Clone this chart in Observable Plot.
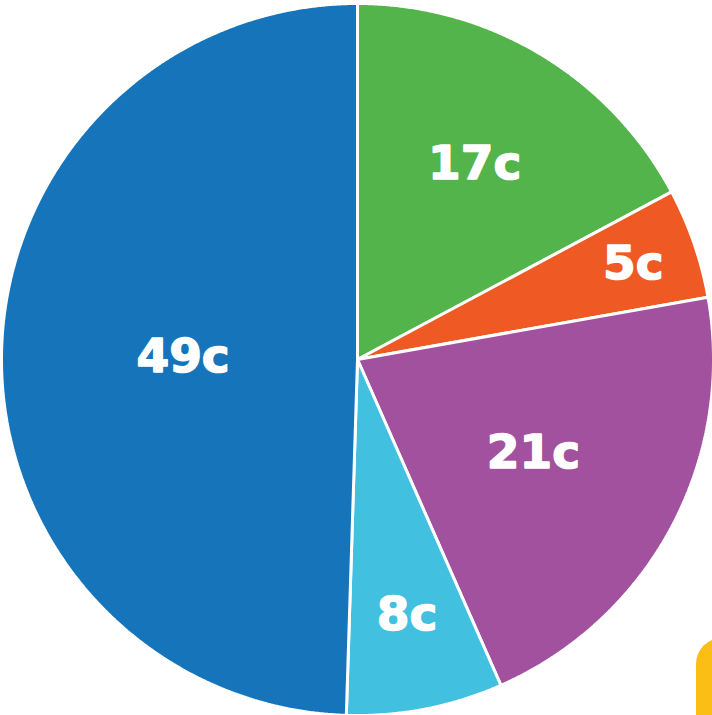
<!DOCTYPE html>
<html>
<head>
<meta charset="utf-8">
<script src="https://cdn.jsdelivr.net/npm/d3@7"></script>
<script src="https://cdn.jsdelivr.net/npm/@observablehq/plot@0.6"></script>
<style>
  html, body { margin: 0; padding: 0; background: #fff; overflow: hidden; }
  #wrap { position: relative; width: 712px; height: 715px; }
  #corner { position: absolute; left: 696px; top: 638px; width: 60px; height: 120px; border-radius: 26px; background: #FBBE14; }
</style>
</head>
<body>
<div id="wrap"><div id="chart"></div><div id="corner"></div></div>
<script>
// Data (clockwise from 12 o'clock)
const categories = ["green", "orange", "purple", "cyan", "blue"];
const values = [17.2, 5.0, 21.2, 7.1, 49.5];
const labels = ["17c", "5c", "21c", "8c", "49c"];
const colors = ["#52B44B", "#EF5A24", "#A1519E", "#41C1DF", "#1674BA"];

// layout config: label distance from centre as fraction of radius
const labelRadius = [0.64, 0.82, 0.56, 0.73, 0.49];

const pie = d3.pie().sort(null).value(d => d.value);
const slices = pie(categories.map((c, i) => ({key: c, value: values[i], label: labels[i], color: colors[i], lr: labelRadius[i]})));

// polygon outline for each slice (angles measured clockwise from top)
const outline = [];
for (const s of slices) {
  outline.push({key: s.data.key, color: s.data.color, x: 0, y: 0});
  const n = Math.max(2, Math.ceil((s.endAngle - s.startAngle) / (Math.PI / 720)));
  for (let k = 0; k <= n; k++) {
    const a = s.startAngle + (s.endAngle - s.startAngle) * k / n;
    outline.push({key: s.data.key, color: s.data.color, x: Math.sin(a), y: Math.cos(a)});
  }
}
const labelData = slices.map(s => {
  const a = (s.startAngle + s.endAngle) / 2;
  return {label: s.data.label, x: s.data.lr * Math.sin(a), y: s.data.lr * Math.cos(a)};
});

const cx = 357, cy = 359, R = 356;
const chart = Plot.plot({
  width: 712,
  height: 715,
  margin: 0,
  x: {domain: [-1, 1], range: [cx - R, cx + R], axis: null},
  y: {domain: [-1, 1], range: [cy + R, cy - R], axis: null},
  color: {type: "identity"},
  marks: [
    Plot.line(outline, {x: "x", y: "y", z: "key", fill: "color", stroke: "white", strokeWidth: 3, strokeLinejoin: "miter", curve: "linear-closed"}),
    Plot.text(labelData, {x: "x", y: "y", text: "label", fill: "white", stroke: "white", strokeWidth: 1.5, fontSize: 47, fontWeight: "bold", fontFamily: "DejaVu Sans", lineAnchor: "middle"})
  ]
});
document.getElementById("chart").appendChild(chart);
</script>
</body>
</html>
